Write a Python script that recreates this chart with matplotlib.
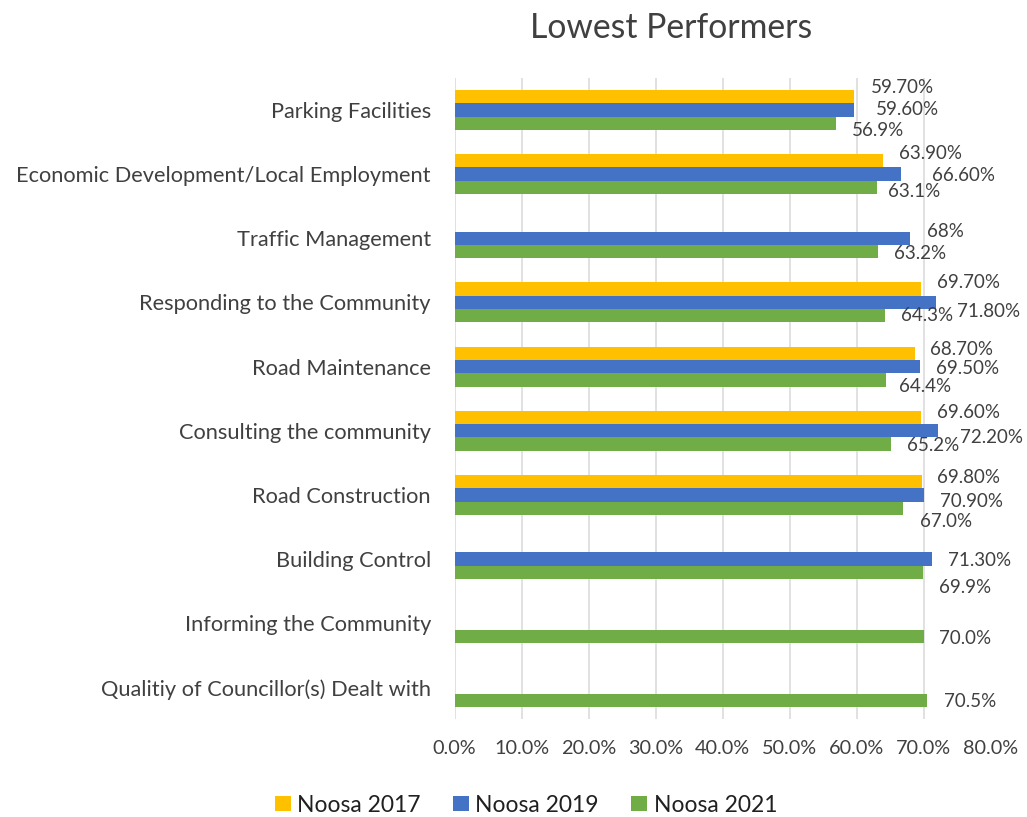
import numpy as np
import matplotlib.pyplot as plt

plt.rcParams['font.family'] = 'Lato'

categories = ['Parking Facilities', 'Economic Development/Local Employment',
              'Traffic Management', 'Responding to the Community', 'Road Maintenance',
              'Consulting the community', 'Road Construction', 'Building Control',
              'Informing the Community', 'Qualitiy of Councillor(s) Dealt with']
noosa_2017 = [59.7, 63.9, np.nan, 69.7, 68.7, 69.6, 69.8, np.nan, np.nan, np.nan]
noosa_2019 = [59.6, 66.6, 68.0, 71.8, 69.5, 72.2, 70.1, 71.3, np.nan, np.nan]
noosa_2021 = [56.9, 63.1, 63.2, 64.3, 64.4, 65.2, 67.0, 69.9, 70.0, 70.5]
labels_2017 = ['59.70%', '63.90%', '', '69.70%', '68.70%', '69.60%', '69.80%', '', '', '']
labels_2019 = ['59.60%', '66.60%', '68%', '71.80%', '69.50%', '72.20%', '70.90%', '71.30%', '', '']
labels_2021 = ['56.9%', '63.1%', '63.2%', '64.3%', '64.4%', '65.2%', '67.0%', '69.9%', '70.0%', '70.5%']
series_names = ['Noosa 2017', 'Noosa 2019', 'Noosa 2021']
x_ticks = [0, 10, 20, 30, 40, 50, 60, 70, 80]

# label nudges in pixels (dx right, dy down), the labels in the original are hand placed
nudge_2017 = [(16, -9), (16, -7), (0, 0), (16, -7), (15, -4), (16, -5), (15, -4), (0, 0), (0, 0), (0, 0)]
nudge_2019 = [(22, 0), (31, 1), (17, -7), (21, 9), (16, 2), (22, 7), (16, 7), (16, 1), (0, 0), (0, 0)]
nudge_2021 = [(16, 7), (11, 4), (16, 2), (16, 0), (13, 7), (16, 1), (17, 13), (16, 15), (16, 2), (17, 1)]

colors = ['#FFC000', '#4472C4', '#70AD47']
text_grey = '#404040'

fig = plt.figure(figsize=(10.27, 8.17), dpi=100)
ax = fig.add_axes([454.5 / 1027, 1 - 719.4 / 817, 536 / 1027, 641.5 / 817])

y = np.arange(len(categories))
bar_h = 0.2078
all_values = [noosa_2017, noosa_2019, noosa_2021]
all_labels = [labels_2017, labels_2019, labels_2021]
all_nudges = [nudge_2017, nudge_2019, nudge_2021]

for i in range(3):
    offs = (i - 1) * bar_h
    ax.barh(y + offs, all_values[i], height=bar_h, color=colors[i],
            label=series_names[i], zorder=2)
    for j in range(len(categories)):
        if all_labels[i][j] == '':
            continue
        dx, dy = all_nudges[i][j]
        ax.annotate(all_labels[i][j], (all_values[i][j], y[j] + offs),
                    xytext=(dx, -dy), textcoords='offset pixels',
                    ha='left', va='center', fontsize=13.5, color=text_grey,
                    annotation_clip=False)

ax.set_xlim(0, 80)
ax.set_ylim(len(categories) - 0.5, -0.5)
ax.set_xticks(x_ticks)
ax.set_xticklabels([f'{t:.1f}%' for t in x_ticks])
ax.set_yticks(y)
ax.set_yticklabels(categories)
ax.tick_params(axis='x', length=0, pad=15, labelsize=14.3, labelcolor=text_grey)
ax.tick_params(axis='y', length=0, pad=17, labelsize=15.7, labelcolor=text_grey)
ax.grid(axis='x', color='#D9D9D9', linewidth=1.1, zorder=0)
ax.set_axisbelow(True)
for s in ax.spines.values():
    s.set_visible(False)

fig.text(671 / 1027, 1 - 28 / 817, 'Lowest Performers', ha='center', va='center',
         fontsize=24.3, color=text_grey)

fig.legend(loc='center', bbox_to_anchor=(526 / 1027, 1 - 805 / 817), ncol=3,
           frameon=False, fontsize=16.5, handlelength=0.68, handleheight=0.68,
           handletextpad=0.3, columnspacing=1.4, labelcolor='#202020')

fig.savefig('out.png')
